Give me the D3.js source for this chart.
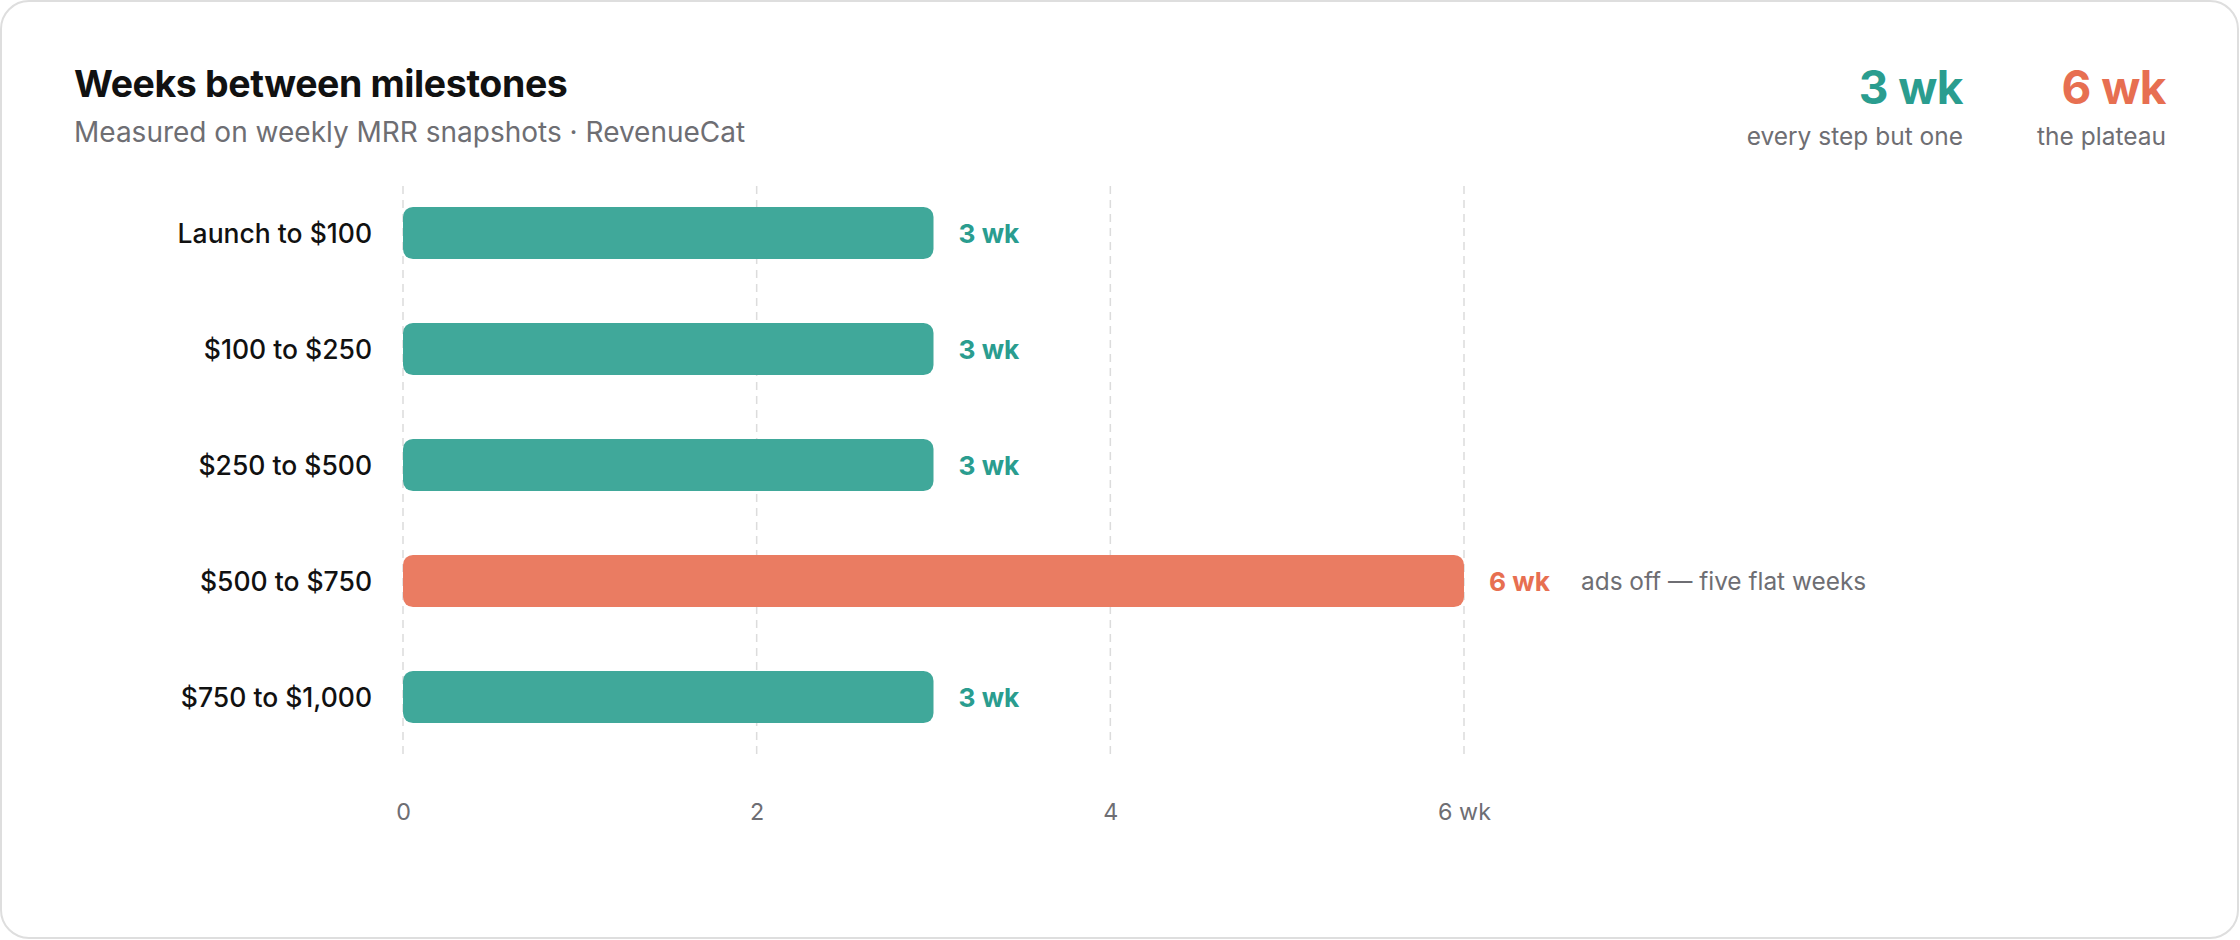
<!DOCTYPE html>
<html>
<head>
<meta charset="utf-8">
<script src="https://cdn.jsdelivr.net/npm/d3@7"></script>
<style>
  html, body { margin: 0; padding: 0; background: #ffffff; }
  svg { display: block; font-family: Inter, "Noto Sans", sans-serif; }
</style>
</head>
<body>
<svg id="chart" width="2240" height="940"></svg>
<script>
// ---- Data ----
const categories = ["Launch to $100", "$100 to $250", "$250 to $500", "$500 to $750", "$750 to $1,000"];
const weeks = [3, 3, 3, 6, 3];
const highlight = [false, false, false, true, false];
const annotations = ["", "", "", "ads off \u2014 five flat weeks", ""];
const tickValues = [0, 2, 4, 6];
const tickLabels = ["0", "2", "4", "6 wk"];
const kpiValues = ["3 wk", "6 wk"];
const kpiLabels = ["every step but one", "the plateau"];
const titleText = "Weeks between milestones";
const subtitleText = "Measured on weekly MRR snapshots \u00b7 RevenueCat";

// ---- Styles ----
const TEAL_BAR = "#40a89a", TEAL_TXT = "#2a9d8f";
const ORANGE_BAR = "#ea7c62", ORANGE_TXT = "#e76f51";
const GRAY = "#6e6e73";

const svg = d3.select("#chart");

// Card
svg.append("rect")
  .attr("x", 1).attr("y", 1).attr("width", 2237).attr("height", 937)
  .attr("rx", 28).attr("fill", "#fff").attr("stroke", "#dedede").attr("stroke-width", 2);

// Title
svg.append("text").attr("x", 74).attr("y", 97)
  .attr("font-size", 37.5).attr("font-weight", 700).attr("fill", "#111")
  .attr("letter-spacing", "-0.4px")
  .text(titleText);
svg.append("text").attr("x", 74).attr("y", 142)
  .attr("font-size", 28).attr("fill", GRAY)
  .text(subtitleText);

// KPIs
const kpiX = [1963, 2166];
const kpiColors = [TEAL_TXT, ORANGE_TXT];
kpiValues.forEach((v, i) => {
  svg.append("text").attr("x", kpiX[i]).attr("y", 104)
    .attr("text-anchor", "end").attr("font-size", 46).attr("font-weight", 700)
    .attr("letter-spacing", "-0.5px")
    .attr("fill", kpiColors[i]).text(v);
  svg.append("text").attr("x", kpiX[i]).attr("y", 145)
    .attr("text-anchor", "end").attr("font-size", 24.5).attr("fill", GRAY)
    .text(kpiLabels[i]);
});

// Scales
const x = d3.scaleLinear().domain([0, 6]).range([403, 1464]);
const y = d3.scaleBand().domain(categories).range([175, 755])
  .paddingInner(0.55).paddingOuter(0.275);

// Gridlines
svg.append("g").selectAll("line").data(tickValues).join("line")
  .attr("x1", d => x(d)).attr("x2", d => x(d))
  .attr("y1", 186).attr("y2", 758)
  .attr("stroke", "#dcdcdc").attr("stroke-width", 1.5)
  .attr("stroke-dasharray", "8,6");

// Tick labels via axis
const xAxis = d3.axisBottom(x).tickValues(tickValues)
  .tickFormat((d, i) => tickLabels[i]).tickSize(0).tickPadding(0);
const gx = svg.append("g").attr("transform", "translate(0,803)").call(xAxis);
gx.select(".domain").remove();
gx.selectAll("text").attr("font-size", 23.3).attr("fill", GRAY)
  .attr("font-family", "Inter, 'Noto Sans', sans-serif");

// Category labels
const yAxis = d3.axisLeft(y).tickSize(0).tickPadding(0);
const gy = svg.append("g").attr("transform", "translate(372,0)").call(yAxis);
gy.select(".domain").remove();
gy.selectAll("text").attr("font-size", 26.5).attr("font-weight", 500).attr("fill", "#111")
  .attr("font-family", "Inter, 'Noto Sans', sans-serif").attr("dy", "0.37em");

// Bars
const rows = categories.map((c, i) => ({ c, v: weeks[i], h: highlight[i], note: annotations[i] }));
svg.append("g").selectAll("rect").data(rows).join("rect")
  .attr("x", x(0)).attr("y", d => y(d.c))
  .attr("width", d => x(d.v) - x(0)).attr("height", y.bandwidth())
  .attr("rx", 10).attr("fill", d => d.h ? ORANGE_BAR : TEAL_BAR);

// Value labels
svg.append("g").selectAll("text").data(rows).join("text")
  .attr("x", d => x(d.v) + 25).attr("y", d => y(d.c) + y.bandwidth() / 2)
  .attr("dy", "0.37em").attr("font-size", 26.3).attr("font-weight", 700)
  .attr("fill", d => d.h ? ORANGE_TXT : TEAL_TXT)
  .text(d => d.v + " wk");

// Annotation
svg.append("g").selectAll("text").data(rows.filter(d => d.note)).join("text")
  .attr("x", d => x(d.v) + 117).attr("y", d => y(d.c) + y.bandwidth() / 2)
  .attr("dy", "0.37em").attr("font-size", 24.4).attr("fill", GRAY)
  .text(d => d.note);
</script>
</body>
</html>
